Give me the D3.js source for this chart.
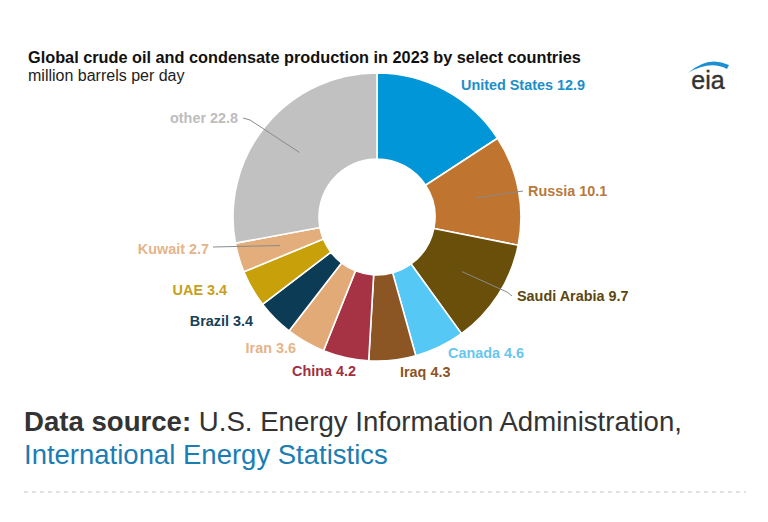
<!DOCTYPE html>
<html><head><meta charset="utf-8">
<script src="https://cdn.jsdelivr.net/npm/d3@7"></script>
<style>html,body{margin:0;padding:0;background:#fff;}svg{display:block;}</style>
</head><body>
<svg id="chart" width="768" height="522"></svg>
<script>
const countries = ["United States","Russia","Saudi Arabia","Canada","Iraq","China","Iran","Brazil","UAE","Kuwait","other"];
const production = [12.9,10.1,9.7,4.6,4.3,4.2,3.6,3.4,3.4,2.7,22.8];
const sliceColors = ["#0096d7","#bf742f","#6a4f0b","#56c8f5","#8b5524","#a53343","#e2aa76","#0c3c55","#c7a00a","#e3ae7b","#c1c1c1"];
const labelColors = ["#1c8fc9","#b8793d","#5c4710","#68c6ee","#8b5524","#a0303f","#e5b48a","#173f55","#c6a021","#e5b48a","#bdbdbd"];

// label layout relative to pie center: [dx, dy, anchor, leader elbow points or null]
const labelLayout = {
  "United States":[84,-132,"start",null],
  "Russia":[151,-26,"start",[[146,-26]]],
  "Saudi Arabia":[140,79,"start",[[130,75],[135,79]]],
  "Canada":[71,136,"start",null],
  "Iraq":[23,155,"start",null],
  "China":[-21,154,"end",null],
  "Iran":[-81,131,"end",null],
  "Brazil":[-124,104,"end",null],
  "UAE":[-150,73,"end",null],
  "Kuwait":[-168,32,"end",[[-164,30]]],
  "other":[-139,-99,"end",[[-127,-97],[-134,-99]]]
};

const data = countries.map((c,i)=>({name:c, value:production[i], color:sliceColors[i], lc:labelColors[i]}));

const svg = d3.select("#chart");
const font = "'Liberation Sans', Arial, Helvetica, sans-serif";

svg.append("text").attr("x",28).attr("y",63).attr("font-family",font).attr("font-weight","bold")
  .attr("font-size",16.3).attr("fill","#111").text("Global crude oil and condensate production in 2023 by select countries");
svg.append("text").attr("x",28).attr("y",81).attr("font-family",font)
  .attr("font-size",16).attr("fill","#222").text("million barrels per day");

// eia logo
const logo = svg.append("g");
logo.append("path").attr("d","M688,73 Q708,55 729,65 Q728,67 727,69 Q710,60 688,73 Z").attr("fill","#1a90d2");
logo.append("text").attr("x",708).attr("y",89).attr("text-anchor","middle").attr("font-family",font)
  .attr("font-size",25).attr("fill","#333").attr("stroke","#333").attr("stroke-width",0.4).text("eia");

const cx = 377, cy = 217, R = 144, r0 = 58;
const g = svg.append("g").attr("transform",`translate(${cx},${cy})`);
const pie = d3.pie().value(d=>d.value).sort(null);
const arcs = pie(data);
const arc = d3.arc().innerRadius(r0).outerRadius(R);
const midArc = d3.arc().innerRadius(r0).outerRadius(R);

g.selectAll("path.slice").data(arcs).enter().append("path").attr("class","slice")
  .attr("d",arc).attr("fill",d=>d.data.color).attr("stroke","#fff").attr("stroke-width",1.6).attr("stroke-linejoin","round");

arcs.forEach(a=>{
  const L = labelLayout[a.data.name];
  if(L[3]){
    const c = midArc.centroid(a);
    const pts = [c].concat(L[3]);
    g.append("path").attr("d",d3.line()(pts)).attr("fill","none").attr("stroke","#8a8a8a").attr("stroke-width",1);
  }
  g.append("text").attr("x",L[0]).attr("y",L[1]).attr("dy","0.35em").attr("text-anchor",L[2])
    .attr("font-family",font).attr("font-weight","bold").attr("font-size",14.4).attr("fill",a.data.lc)
    .text(a.data.name+" "+d3.format(".1f")(a.data.value));
});

// source
const src = svg.append("text").attr("x",24).attr("y",431).attr("font-family",font).attr("font-size",27.6).attr("fill","#333");
src.append("tspan").attr("font-weight","bold").text("Data source:");
src.append("tspan").text(" U.S. Energy Information Administration,");
svg.append("text").attr("x",24).attr("y",464).attr("font-family",font).attr("font-size",27.5).attr("fill","#1a7db4")
  .text("International Energy Statistics");

svg.append("line").attr("x1",24).attr("x2",746).attr("y1",492).attr("y2",492)
  .attr("stroke","#c8c8c8").attr("stroke-width",1.2).attr("stroke-dasharray","4,4");
</script>
</body></html>
